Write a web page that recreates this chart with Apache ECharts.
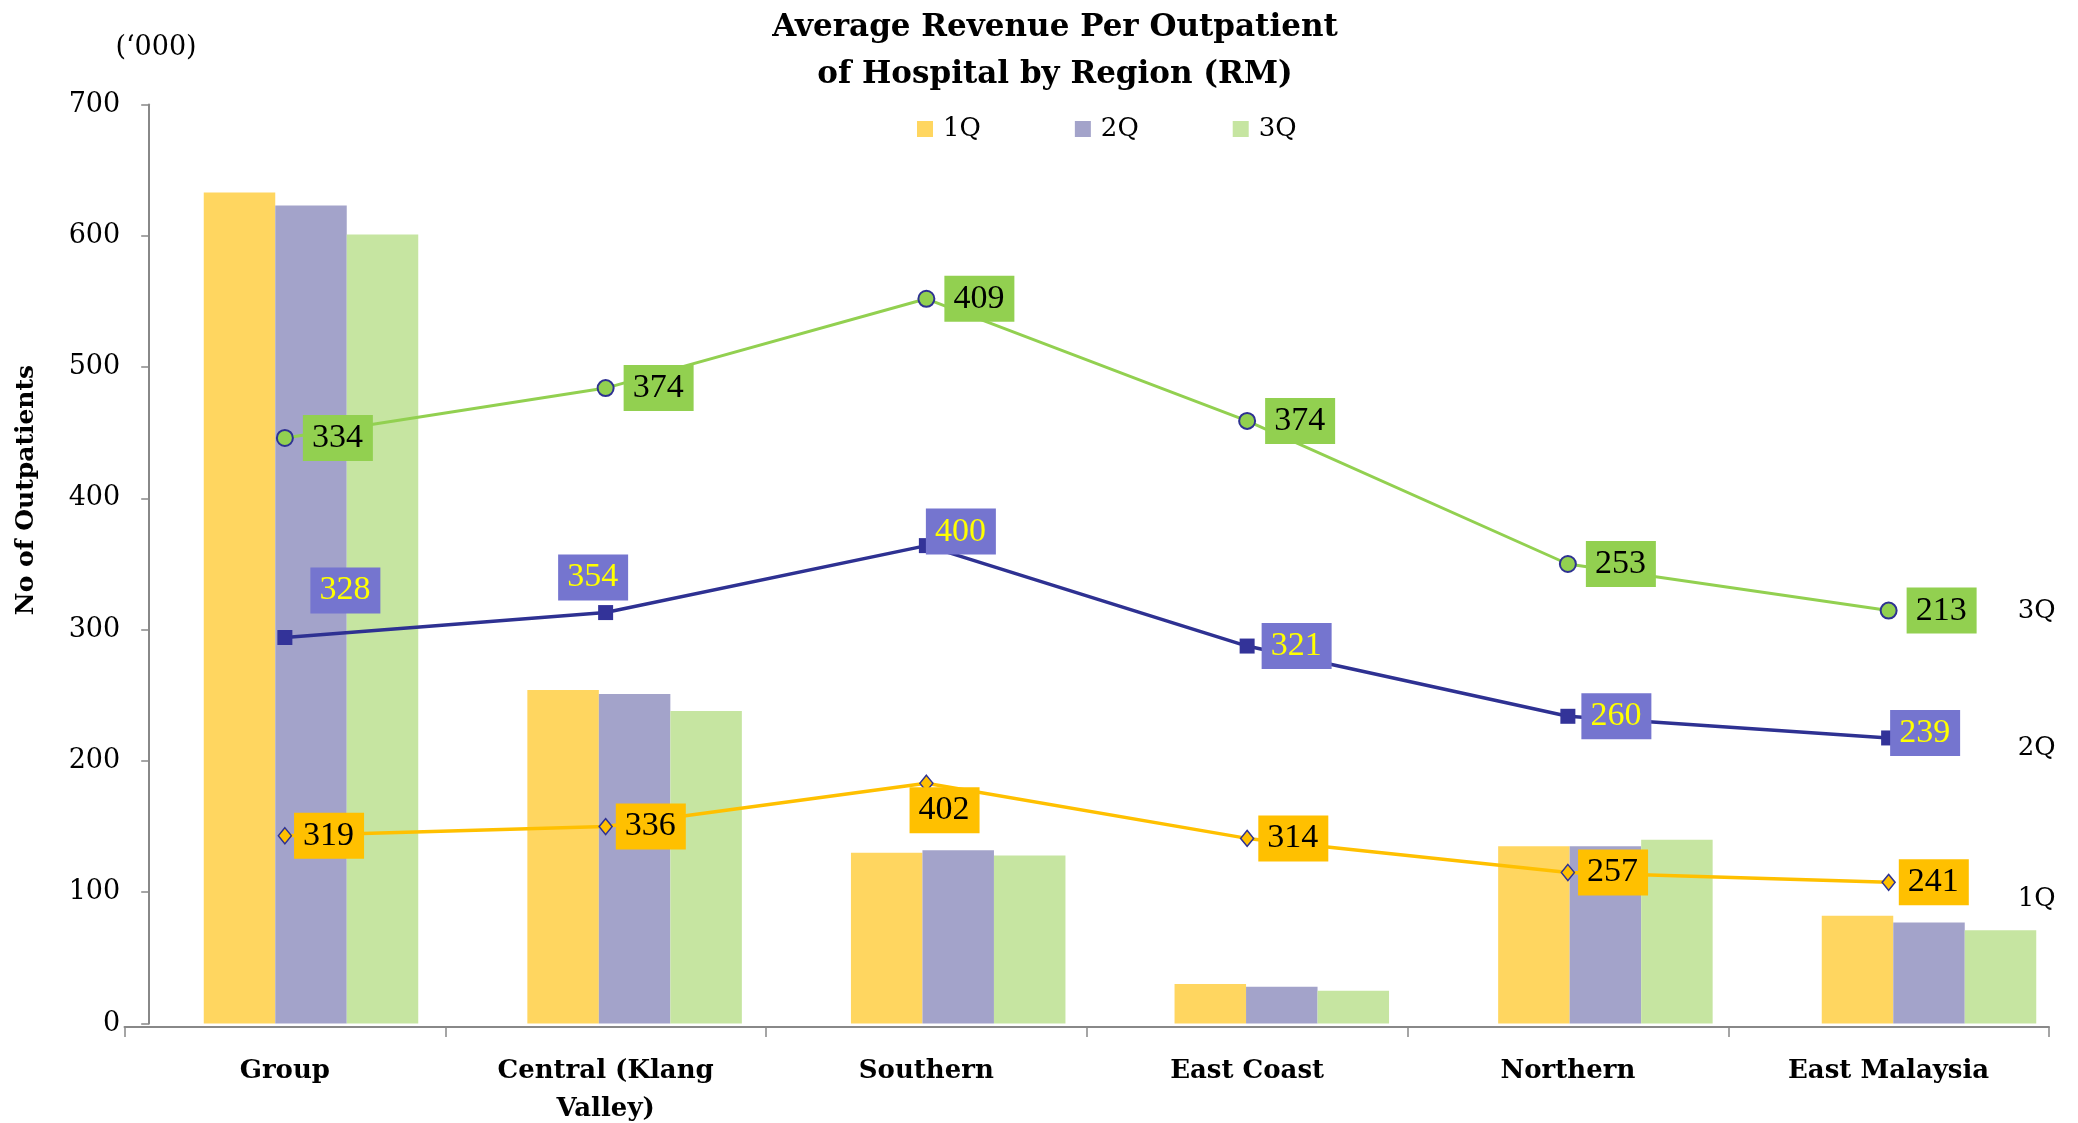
<!DOCTYPE html>
<html>
<head>
<meta charset="utf-8">
<script src="https://cdn.jsdelivr.net/npm/echarts@6/dist/echarts.min.js"></script>
<style>
  html, body { margin: 0; padding: 0; background: #fff; }
  #chart { width: 2078px; height: 1123px; }
</style>
</head>
<body>
<div id="chart"></div>
<script>
// regions on the x axis
const regions = ['Group', 'Central (Klang\nValley)', 'Southern', 'East Coast', 'Northern', 'East Malaysia'];
const quarters = ['1Q', '2Q', '3Q'];

// no of outpatients ('000), bars
const outpatients1Q = [633, 254, 130, 30, 135, 82];
const outpatients2Q = [623, 251, 132, 28, 135, 77];
const outpatients3Q = [601, 238, 128, 25, 140, 71];

// average revenue per outpatient (RM), shown in the label boxes
const revenue1Q = [319, 336, 402, 314, 257, 241];
const revenue2Q = [328, 354, 400, 321, 260, 239];
const revenue3Q = [334, 374, 409, 374, 253, 213];

// height of each line point read against the left axis
const linePos1Q = [143, 150, 183, 141, 115, 107.5];
const linePos2Q = [294, 313, 364, 287.5, 234, 217.5];
const linePos3Q = [446, 484, 552, 459, 350, 314.5];

const yTicks = { min: 0, max: 700, step: 100 };

// label box nudges per point (styling only)
const nudge1Q = [[-4, 0], [-3, 0], [-30, 27], [-2, 0], [-3, 0], [-3, 0]];
const nudge2Q = [[9, -47], [-64, -35], [-17, -14], [-2, 0], [-3, 0], [-15, -5]];
const nudge3Q = [[0, 0], [0, 0], [0, 0], [0, 0], [0, 0], [0, 0]];

const SERIF = 'DejaVu Serif';
const NAVY = '#2E3192';
const axisGray = '#888888';

const chart = echarts.init(document.getElementById('chart'));

const boxLabel = (values, bg, fg, distance) => ({
    show: true,
    position: 'right',
    distance: distance,
    formatter: p => String(values[p.dataIndex]),
    backgroundColor: bg,
    color: fg,
    fontFamily: 'Liberation Serif',
    fontSize: 34,
    lineHeight: 34,
    padding: [6, 10, 6, 9]
});

const lineData = (pos, nudges) => pos.map((v, i) => ({
    value: v,
    label: { offset: nudges[i] }
}));

const option = {
    animation: false,
    backgroundColor: '#ffffff',
    title: {
        text: 'Average Revenue Per Outpatient\nof Hospital by Region (RM)',
        left: 1055,
        top: 4,
        textAlign: 'center',
        padding: 0,
        textStyle: {
            fontFamily: SERIF,
            fontWeight: 'bold',
            fontSize: 31,
            lineHeight: 47,
            color: '#000'
        }
    },
    legend: {
        data: quarters,
        left: 917,
        top: 114,
        padding: 0,
        icon: 'rect',
        itemWidth: 16,
        itemHeight: 16,
        itemGap: 94,
        textStyle: {
            fontFamily: SERIF,
            fontSize: 26,
            lineHeight: 30,
            color: '#000',
            padding: [0, 0, 0, 5]
        }
    },
    graphic: [
        {
            type: 'text',
            x: 156,
            y: 48,
            style: {
                text: '(\u2018000)',
                fontFamily: SERIF,
                fontSize: 27,
                fill: '#000',
                align: 'center',
                verticalAlign: 'middle'
            }
        },
        {
            type: 'text',
            x: 26,
            y: 490,
            rotation: Math.PI / 2,
            style: {
                text: 'No of Outpatients',
                fontFamily: SERIF,
                fontWeight: 'bold',
                fontSize: 25,
                fill: '#000',
                align: 'center',
                verticalAlign: 'middle'
            }
        }
    ],
    grid: [
        { left: 149.2, top: 104.5, width: 1941.6, height: 919, outerBoundsMode: 'none' },
        { left: 124.5, top: 104.5, width: 1924.5, height: 919, outerBoundsMode: 'none' }
    ],
    xAxis: [
        { gridIndex: 0, type: 'category', data: regions, show: false },
        {
            gridIndex: 1,
            type: 'category',
            data: regions,
            boundaryGap: true,
            offset: 3.5,
            axisLine: { onZero: false, lineStyle: { color: axisGray, width: 2 } },
            axisTick: { show: true, length: 10, lineStyle: { color: axisGray, width: 1.5 } },
            axisLabel: {
                interval: 0,
                margin: 25,
                fontFamily: SERIF,
                fontWeight: 'bold',
                fontSize: 26,
                lineHeight: 38,
                color: '#000'
            }
        }
    ],
    yAxis: [
        {
            gridIndex: 0,
            type: 'value',
            min: yTicks.min,
            max: yTicks.max,
            interval: yTicks.step,
            axisLine: { show: true, lineStyle: { color: axisGray, width: 2 } },
            axisTick: { show: true, length: 8, lineStyle: { color: axisGray, width: 1.5 } },
            splitLine: { show: false },
            axisLabel: {
                margin: 29,
                fontFamily: SERIF,
                fontSize: 27,
                color: '#000'
            }
        },
        { gridIndex: 1, type: 'value', min: yTicks.min, max: yTicks.max, show: false }
    ],
    series: [
        {
            name: '1Q', type: 'bar', xAxisIndex: 0, yAxisIndex: 0,
            barWidth: 71.5, barGap: '0%',
            itemStyle: { color: '#FFD660' },
            data: outpatients1Q
        },
        {
            name: '2Q', type: 'bar', xAxisIndex: 0, yAxisIndex: 0,
            barWidth: 71.5, barGap: '0%',
            itemStyle: { color: '#A3A3CA' },
            data: outpatients2Q
        },
        {
            name: '3Q', type: 'bar', xAxisIndex: 0, yAxisIndex: 0,
            barWidth: 71.5, barGap: '0%',
            itemStyle: { color: '#C6E5A1' },
            data: outpatients3Q
        },
        {
            name: '3Q revenue', type: 'line', xAxisIndex: 1, yAxisIndex: 1,
            symbol: 'circle', symbolSize: 16,
            lineStyle: { color: '#92D050', width: 3 },
            itemStyle: { color: '#92D050', borderColor: NAVY, borderWidth: 2 },
            label: boxLabel(revenue3Q, '#92D050', '#000', 9),
            endLabel: {
                show: true, formatter: '3Q', distance: 0, offset: [129, 1],
                fontFamily: SERIF, fontSize: 26, color: '#000'
            },
            data: lineData(linePos3Q, nudge3Q),
            z: 5
        },
        {
            name: '2Q revenue', type: 'line', xAxisIndex: 1, yAxisIndex: 1,
            symbol: 'rect', symbolSize: 15,
            lineStyle: { color: NAVY, width: 3.5 },
            itemStyle: { color: '#333399' },
            label: boxLabel(revenue2Q, '#7575CF', '#FFFF00', 9),
            endLabel: {
                show: true, formatter: '2Q', distance: 0, offset: [129, 10],
                fontFamily: SERIF, fontSize: 26, color: '#000'
            },
            data: lineData(linePos2Q, nudge2Q),
            z: 5
        },
        {
            name: '1Q revenue', type: 'line', xAxisIndex: 1, yAxisIndex: 1,
            symbol: 'diamond', symbolSize: [13, 16],
            lineStyle: { color: '#FFC000', width: 3.5 },
            itemStyle: { color: '#FFC000', borderColor: NAVY, borderWidth: 1.5 },
            label: boxLabel(revenue1Q, '#FFC000', '#000', 6),
            endLabel: {
                show: true, formatter: '1Q', distance: 0, offset: [129, 17],
                fontFamily: SERIF, fontSize: 26, color: '#000'
            },
            data: lineData(linePos1Q, nudge1Q),
            z: 5
        }
    ]
};

chart.setOption(option);
</script>
</body>
</html>
